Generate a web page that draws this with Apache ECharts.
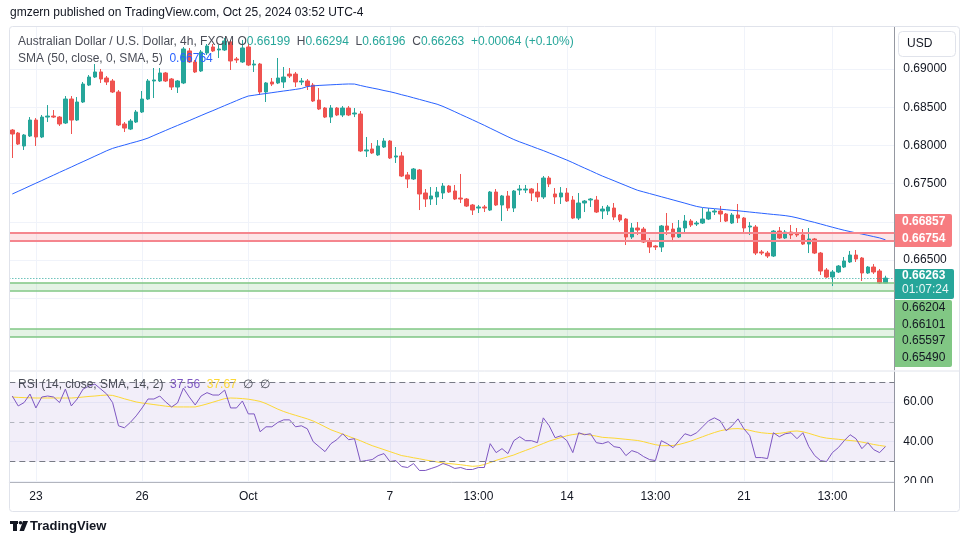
<!DOCTYPE html>
<html><head><meta charset="utf-8">
<script src="https://cdn.jsdelivr.net/npm/echarts@6/dist/echarts.min.js"></script>
<style>html,body{margin:0;padding:0;background:#fff}#c{width:970px;height:545px}</style>
</head><body><div id="c"></div>
<script>
// ---- data (AUD/USD 4h, FXCM) ----
const opens = [0.68201,0.68162,0.67992,0.68123,0.68332,0.68110,0.68371,0.68384,0.68371,0.68293,
0.68607,0.68332,0.68568,0.68790,0.68895,0.68961,0.68882,0.68843,0.68699,0.68280,
0.68214,0.68306,0.68437,0.68607,0.68843,0.68843,0.68948,0.68869,0.68764,0.68817,
0.69236,0.69092,0.68974,0.69210,0.69288,0.69249,0.69249,0.69354,0.69131,0.69092,
0.69288,0.69052,0.69065,0.68699,0.68830,0.68817,0.68830,0.68934,0.68934,0.68830,
0.68843,0.68790,0.68594,0.68489,0.68371,0.68489,0.68398,0.68489,0.68411,0.68411,
0.67927,0.67953,0.67875,0.67979,0.68057,0.67848,0.67862,0.67613,0.67560,0.67678,
0.67377,0.67298,0.67325,0.67377,0.67468,0.67403,0.67311,0.67298,0.67220,0.67180,
0.67194,0.67154,0.67390,0.67220,0.67338,0.67180,0.67416,0.67416,0.67429,0.67390,
0.67325,0.67573,0.67364,0.67325,0.67377,0.67285,0.67049,0.67246,0.67285,0.67285,
0.67141,0.67141,0.67180,0.67089,0.67036,0.66801,0.66919,0.66905,0.66749,0.66683,
0.66670,0.66945,0.66905,0.66801,0.66919,0.67010,0.66971,0.66984,0.67036,0.67128,
0.67141,0.67102,0.66984,0.67089,0.67049,0.66932,0.66932,0.66605,0.66591,0.66552,
0.66879,0.66788,0.66866,0.66840,0.66827,0.66709,0.66775,0.66591,0.66369,0.66277,
0.66343,0.66408,0.66474,0.66565,0.66526,0.66330,0.66408,0.66356,0.66199];
const closes = [0.68149,0.68018,0.68136,0.68332,0.68110,0.68371,0.68384,0.68371,0.68280,0.68607,
0.68332,0.68568,0.68803,0.68895,0.68961,0.68869,0.68830,0.68699,0.68267,0.68227,
0.68319,0.68437,0.68607,0.68843,0.68856,0.68948,0.68843,0.68764,0.68843,0.69262,
0.69092,0.68961,0.69223,0.69301,0.69236,0.69262,0.69367,0.69105,0.69118,0.69275,
0.69052,0.69065,0.68699,0.68817,0.68803,0.68882,0.68895,0.68908,0.68830,0.68843,
0.68777,0.68581,0.68476,0.68371,0.68489,0.68398,0.68489,0.68398,0.68424,0.67927,
0.67940,0.67901,0.67992,0.68057,0.67835,0.67862,0.67599,0.67560,0.67691,0.67364,
0.67298,0.67338,0.67390,0.67468,0.67390,0.67298,0.67298,0.67206,0.67154,0.67194,
0.67180,0.67390,0.67220,0.67338,0.67180,0.67403,0.67429,0.67429,0.67377,0.67325,
0.67573,0.67495,0.67325,0.67377,0.67272,0.67049,0.67246,0.67272,0.67298,0.67128,
0.67167,0.67194,0.67062,0.67023,0.66801,0.66919,0.66892,0.66735,0.66670,0.66670,
0.66945,0.66892,0.66801,0.66919,0.67010,0.66958,0.66984,0.67036,0.67128,0.67141,
0.67102,0.67010,0.67089,0.67049,0.66919,0.66945,0.66591,0.66591,0.66552,0.66879,
0.66788,0.66866,0.66827,0.66827,0.66709,0.66775,0.66591,0.66356,0.66277,0.66343,
0.66421,0.66487,0.66565,0.66513,0.66330,0.66408,0.66343,0.66199,0.66263];
const highs = [0.68214,0.68175,0.68149,0.68371,0.68358,0.68398,0.68528,0.68463,0.68384,0.68646,
0.68646,0.68633,0.68830,0.68921,0.69065,0.69000,0.68908,0.68869,0.68725,0.68306,
0.68345,0.68463,0.68712,0.68869,0.69013,0.69013,0.68961,0.68882,0.68856,0.69288,
0.69275,0.69118,0.69249,0.69327,0.69327,0.69314,0.69406,0.69380,0.69157,0.69380,
0.69341,0.69118,0.69079,0.68830,0.68882,0.69144,0.69026,0.69013,0.68961,0.68882,
0.68869,0.68817,0.68751,0.68502,0.68528,0.68502,0.68515,0.68515,0.68489,0.68450,
0.68110,0.68031,0.68070,0.68096,0.68070,0.67979,0.67914,0.67652,0.67704,0.67691,
0.67429,0.67455,0.67455,0.67508,0.67482,0.67482,0.67626,0.67311,0.67233,0.67220,
0.67220,0.67403,0.67429,0.67351,0.67403,0.67416,0.67482,0.67482,0.67442,0.67508,
0.67599,0.67599,0.67442,0.67455,0.67442,0.67338,0.67377,0.67285,0.67311,0.67338,
0.67207,0.67220,0.67246,0.67102,0.67049,0.66984,0.66997,0.66932,0.66788,0.66696,
0.66958,0.67115,0.66984,0.67023,0.67089,0.67036,0.67010,0.67180,0.67180,0.67167,
0.67207,0.67115,0.67115,0.67233,0.67062,0.66997,0.66958,0.66631,0.66618,0.66892,
0.66932,0.66892,0.66958,0.66919,0.66905,0.66919,0.66788,0.66605,0.66395,0.66369,
0.66434,0.66539,0.66618,0.66631,0.66539,0.66421,0.66447,0.66382,0.66294];
const lows = [0.67835,0.68005,0.67940,0.68110,0.67992,0.68096,0.68306,0.68358,0.68254,0.68280,
0.68149,0.68319,0.68555,0.68777,0.68882,0.68817,0.68790,0.68686,0.68254,0.68175,
0.68201,0.68293,0.68424,0.68594,0.68620,0.68830,0.68830,0.68725,0.68686,0.68803,
0.69079,0.68948,0.68961,0.69184,0.69223,0.69144,0.69236,0.68987,0.69079,0.69079,
0.69039,0.68961,0.68660,0.68568,0.68777,0.68803,0.68751,0.68882,0.68764,0.68790,
0.68725,0.68568,0.68463,0.68358,0.68293,0.68384,0.68371,0.68384,0.68371,0.67914,
0.67848,0.67888,0.67862,0.67966,0.67822,0.67770,0.67586,0.67442,0.67547,0.67154,
0.67194,0.67220,0.67220,0.67298,0.67377,0.67285,0.67246,0.67194,0.67089,0.67115,
0.67128,0.67141,0.67207,0.67010,0.67141,0.67128,0.67351,0.67377,0.67272,0.67259,
0.67298,0.67455,0.67233,0.67233,0.67259,0.67036,0.67023,0.67128,0.67194,0.67115,
0.67036,0.67089,0.67023,0.66997,0.66696,0.66775,0.66827,0.66722,0.66591,0.66631,
0.66605,0.66827,0.66735,0.66788,0.66840,0.66932,0.66945,0.66971,0.67023,0.67089,
0.66997,0.66997,0.66971,0.66984,0.66840,0.66827,0.66565,0.66565,0.66526,0.66539,
0.66775,0.66775,0.66775,0.66801,0.66696,0.66591,0.66578,0.66304,0.66264,0.66159,
0.66330,0.66395,0.66461,0.66474,0.66225,0.66317,0.66317,0.66186,0.66196];
const sma50 = [0.67364,0.67399,0.67434,0.67470,0.67505,0.67540,0.67576,0.67611,0.67647,0.67682,
0.67717,0.67753,0.67788,0.67823,0.67859,0.67894,0.67930,0.67961,0.67984,0.68005,
0.68027,0.68048,0.68070,0.68096,0.68130,0.68163,0.68196,0.68229,0.68261,0.68293,
0.68325,0.68358,0.68391,0.68424,0.68455,0.68488,0.68521,0.68553,0.68586,0.68618,
0.68646,0.68657,0.68669,0.68679,0.68690,0.68701,0.68712,0.68722,0.68733,0.68745,
0.68770,0.68779,0.68785,0.68789,0.68793,0.68797,0.68801,0.68804,0.68803,0.68784,
0.68767,0.68751,0.68736,0.68718,0.68703,0.68684,0.68663,0.68644,0.68623,0.68602,
0.68581,0.68560,0.68539,0.68510,0.68476,0.68441,0.68405,0.68370,0.68335,0.68299,
0.68263,0.68225,0.68188,0.68150,0.68113,0.68077,0.68046,0.68018,0.67989,0.67960,
0.67932,0.67901,0.67871,0.67839,0.67808,0.67774,0.67738,0.67703,0.67669,0.67633,
0.67599,0.67568,0.67537,0.67505,0.67474,0.67442,0.67412,0.67391,0.67370,0.67349,
0.67328,0.67307,0.67286,0.67265,0.67244,0.67222,0.67201,0.67187,0.67179,0.67172,
0.67165,0.67158,0.67150,0.67144,0.67136,0.67128,0.67120,0.67112,0.67104,0.67096,
0.67089,0.67081,0.67069,0.67052,0.67032,0.67011,0.66992,0.66971,0.66950,0.66929,
0.66909,0.66889,0.66872,0.66855,0.66840,0.66823,0.66806,0.66789,0.66764];
const rsi = [63,58,59.7,64,57,62.5,63,62.5,59.7,66.5,
58,61.5,66.5,68,69,66.5,64,59.7,48,47,
49.7,53,57,61.5,61.5,63,60,57.5,59.5,67,
62.5,58.5,63,64.7,63.5,63.5,66,57,57,60.5,
54,54,45,47.5,47.5,49.7,51,51,47.5,48,
46.5,40,37.5,35,39,41,44,41,41.5,30,
30.5,31,33,34,30,30.5,27.5,27,29,25.5,
25.5,26.5,27.5,29,28,26.5,27,26,26,27,
27,39,34.5,36.5,34,40.5,42.5,40.5,40.5,39.5,
52,48,42,43,40.5,34.5,44.5,43.5,44,39.5,
39,40,37.5,37,33,35.5,34.5,32.5,31,30.5,
40.5,39,37,40.5,44,43,44.5,47.5,50.5,52,
50.5,45.5,48,51.5,46.5,43,32,32,31.5,44.5,
42.5,44,44.5,41.5,44.5,37.5,33,30.5,30,34.5,
37,40.5,43.5,41.5,36.5,39.5,36,34.5,37.56];
const rsiMa = [62.5,62.3,62.2,62.1,62,62,62,62,62,62,
62,62.2,62.5,62.8,63,63.3,63.5,63.3,62.5,61.6,
60.8,60,59.5,59.1,58.7,58.3,57.9,57.6,57.5,57.5,
57.5,57.5,58.2,59,59.9,60.8,61.7,62,61.9,61.7,
61.4,60.9,60.3,59.2,57.8,56.4,55.2,54.2,53.3,52.4,
51.5,50.4,49,47.5,46,44.9,43.8,42.7,41.6,40.5,
39.2,38,37,36,35,34,33,32.5,31.9,31.4,
30.8,30.3,29.8,29.3,29,28.7,28.4,28,27.6,27.8,
28.5,29.5,30.6,31.5,32.4,33.3,34.5,35.6,36.7,37.9,
39.1,40.3,41.2,42.1,43,43.6,44,43.8,43.3,42.8,
42.2,42,41.8,41.5,41.2,40.9,40.6,40,39.2,38.5,
38,38,38.1,38.6,39.4,40.3,41.4,42.5,43.6,44.6,
45.5,46.1,46.5,46.6,46.3,45.7,45,44.5,44.2,44,
44.2,44.6,45.2,45.4,45,44.2,43.3,42.4,41.8,41.5,
41.2,40.9,40.6,40.3,39.8,39.2,38.6,38.1,37.67];
// bar slots (one spare slot on the right)
const categories = closes.map((_, i) => String(i)).concat(['']);
// time-axis ticks (bar index -> label)
const tickIdx = [4, 22, 40, 64, 79, 94, 109, 124, 139];
const tickLabels = ['23', '26', 'Oct', '7', '13:00', '14', '13:00', '21', '13:00'];
// price scale
const priceGrid = [0.655, 0.660, 0.665, 0.670, 0.675, 0.680, 0.685, 0.690];
const priceLabels = [0.665, 0.675, 0.680, 0.685, 0.690];
// zones
const resistanceZone = [0.66857, 0.66754];
const supportZone1 = [0.66204, 0.66101];
const supportZone2 = [0.65597, 0.65490];
const lastPrice = 0.66263;
// RSI levels
const rsiTicks = [20, 40, 60];
const rsiLevels = [70, 50, 30];

const FONT = "'Liberation Sans', Arial, sans-serif";
const UP = '#26a69a', DOWN = '#ef5350';
const candleData = opens.map((o, i) => [o, closes[i], lows[i], highs[i]]);

const chart = echarts.init(document.getElementById('c'), null, {renderer: 'canvas'});
const gridL = 9.35, gridW = 885;

const hLine = (v, color, width, type) => ({yAxis: v, lineStyle: {color, width, type}});

chart.setOption({
  animation: false,
  backgroundColor: '#ffffff',
  textStyle: {fontFamily: FONT},
  grid: [
    {left: gridL, top: 27, width: gridW, height: 343},
    {left: gridL, top: 372, width: gridW, height: 110}
  ],
  xAxis: [
    {type: 'category', gridIndex: 0, data: categories, show: false, boundaryGap: true},
    {type: 'category', gridIndex: 1, data: categories, show: false, boundaryGap: true},
    {type: 'value', gridIndex: 0, min: -0.5, max: categories.length - 0.5, position: 'bottom',
      axisLine: {show: false, onZero: false}, axisLabel: {show: false},
      axisTick: {show: false, customValues: tickIdx},
      splitLine: {show: true, lineStyle: {color: '#f0f3fa', width: 1}}},
    {type: 'value', gridIndex: 1, min: -0.5, max: categories.length - 0.5, position: 'bottom',
      axisLine: {show: true, onZero: false, lineStyle: {color: '#b2b5be', width: 1}},
      axisTick: {show: false, customValues: tickIdx},
      axisLabel: {customValues: tickIdx, color: '#131722', fontSize: 12, fontFamily: FONT, margin: 9,
        formatter: v => { const k = tickIdx.indexOf(Math.round(v)); return k >= 0 ? tickLabels[k] : ''; }},
      splitLine: {show: true, lineStyle: {color: '#f0f3fa', width: 1}}}
  ],
  yAxis: [
    {type: 'value', gridIndex: 0, position: 'right', min: 0.650602, max: 0.695497,
      axisLine: {show: true, onZero: false, lineStyle: {color: '#9598a1', width: 1}},
      axisTick: {show: false, customValues: priceGrid},
      splitLine: {show: true, lineStyle: {color: '#f0f3fa', width: 1}},
      axisLabel: {customValues: priceLabels, formatter: v => v.toFixed(5), color: '#131722',
        fontSize: 12, fontFamily: FONT, margin: 9}},
    {type: 'value', gridIndex: 1, position: 'right', min: 19.7, max: 75.1,
      axisLine: {show: true, onZero: false, lineStyle: {color: '#9598a1', width: 1}},
      axisTick: {show: false, customValues: rsiTicks},
      splitLine: {show: true, lineStyle: {color: '#f0f3fa', width: 1}},
      axisLabel: {customValues: rsiTicks, formatter: v => v.toFixed(2), color: '#131722',
        fontSize: 12, fontFamily: FONT, margin: 9}}
  ],
  series: [
    {
      type: 'candlestick', name: 'AUDUSD', xAxisIndex: 0, yAxisIndex: 0, z: 2,
      data: candleData, barWidth: 4,
      itemStyle: {color: UP, color0: DOWN, borderColor: UP, borderColor0: DOWN, borderWidth: 1}
    },
    {
      type: 'line', name: 'zones', xAxisIndex: 0, yAxisIndex: 0, z: 3, data: [],
      markArea: {silent: true, label: {show: false}, data: [
        [{yAxis: resistanceZone[0], itemStyle: {color: 'rgba(242,54,69,0.13)'}}, {yAxis: resistanceZone[1]}],
        [{yAxis: supportZone1[0], itemStyle: {color: 'rgba(76,175,80,0.15)'}}, {yAxis: supportZone1[1]}],
        [{yAxis: supportZone2[0], itemStyle: {color: 'rgba(76,175,80,0.15)'}}, {yAxis: supportZone2[1]}]
      ]},
      markLine: {silent: true, precision: 5, symbol: ['none', 'none'], label: {show: false}, data: [
        hLine(resistanceZone[0], '#f5868e', 2, 'solid'),
        hLine(resistanceZone[1], '#f5868e', 2, 'solid'),
        hLine(supportZone1[0], '#81c784', 1.5, 'solid'),
        hLine(supportZone1[1], '#81c784', 1.5, 'solid'),
        hLine(supportZone2[0], '#81c784', 1.5, 'solid'),
        hLine(supportZone2[1], '#81c784', 1.5, 'solid'),
        hLine(lastPrice, UP, 1, [1, 2])
      ]}
    },
    {
      type: 'line', name: 'SMA 50', xAxisIndex: 0, yAxisIndex: 0, z: 4, data: sma50,
      symbol: 'none', showSymbol: false, lineStyle: {color: '#2962ff', width: 1}
    },
    {
      type: 'line', name: 'RSI', xAxisIndex: 1, yAxisIndex: 1, z: 3, data: rsi,
      symbol: 'none', showSymbol: false, lineStyle: {color: '#7e57c2', width: 1},
      markArea: {silent: true, label: {show: false}, data: [
        [{yAxis: rsiLevels[0], itemStyle: {color: 'rgba(126,87,194,0.1)'}}, {yAxis: rsiLevels[2]}]
      ]},
      markLine: {silent: true, precision: 2, symbol: ['none', 'none'], label: {show: false}, data: [
        hLine(rsiLevels[0], '#787b86', 1, [6, 4]),
        hLine(rsiLevels[1], '#b2b5be', 1, [5, 5]),
        hLine(rsiLevels[2], '#787b86', 1, [6, 4])
      ]}
    },
    {
      type: 'line', name: 'RSI MA', xAxisIndex: 1, yAxisIndex: 1, z: 2, data: rsiMa,
      symbol: 'none', showSymbol: false, lineStyle: {color: '#fdd835', width: 1}
    }
  ],
  graphic: [
    // frame
    {type: 'rect', z: 50, silent: true, shape: {x: 9.5, y: 26.5, width: 950, height: 485, r: 3},
      style: {fill: 'none', stroke: '#e0e3eb', lineWidth: 1}},
    {type: 'line', z: 50, silent: true, shape: {x1: 10, y1: 371, x2: 959, y2: 371},
      style: {stroke: '#e0e3eb', lineWidth: 1}},
    // header
    {type: 'text', z: 60, left: 10, top: 7, style: {text: 'gmzern published on TradingView.com, Oct 25, 2024 03:52 UTC-4',
      font: '12px ' + FONT, fill: '#131722'}},
    // legend
    {type: 'text', z: 60, left: 18, top: 36, style: {
      text: '{g|Australian Dollar / U.S. Dollar, 4h, FXCM} {g|O}{v|0.66199}  {g|H}{v|0.66294}  {g|L}{v|0.66196}  {g|C}{v|0.66263}  {v|+0.00064 (+0.10%)}',
      font: '12px ' + FONT,
      rich: {g: {fill: '#4a4d57', font: '12px ' + FONT}, v: {fill: '#26a69a', font: '12px ' + FONT}}}},
    {type: 'text', z: 60, left: 18, top: 53, style: {
      text: '{g|SMA (50, close, 0, SMA, 5)}  {b|0.66764}',
      font: '12px ' + FONT,
      rich: {g: {fill: '#4a4d57', font: '12px ' + FONT}, b: {fill: '#2962ff', font: '12px ' + FONT}}}},
    {type: 'text', z: 60, left: 18, top: 379, style: {
      text: '{g|RSI (14, close, SMA, 14, 2)}  {p|37.56}  {y|37.67}  {g|∅  ∅}',
      font: '12px ' + FONT,
      rich: {g: {fill: '#4a4d57', font: '12px ' + FONT}, p: {fill: '#7e57c2', font: '12px ' + FONT},
             y: {fill: '#fdd835', font: '12px ' + FONT}}}},
    // USD box
    {type: 'rect', z: 60, shape: {x: 898.5, y: 31.5, width: 57, height: 25, r: 4},
      style: {fill: '#ffffff', stroke: '#e0e3eb', lineWidth: 1}},
    {type: 'text', z: 61, left: 907, top: 38, style: {text: 'USD', font: '12px ' + FONT, fill: '#131722'}},
    // resistance labels
    {type: 'rect', z: 60, shape: {x: 895, y: 214, width: 57, height: 33, r: [0, 2, 2, 0]}, style: {fill: '#f77c80'}},
    {type: 'text', z: 61, left: 902, top: 216, style: {text: '0.66857', font: 'bold 12px ' + FONT, fill: '#ffffff'}},
    {type: 'text', z: 61, left: 902, top: 233, style: {text: '0.66754', font: 'bold 12px ' + FONT, fill: '#ffffff'}},
    // last price
    {type: 'rect', z: 60, shape: {x: 895, y: 269, width: 59, height: 30, r: [0, 2, 2, 0]}, style: {fill: '#26a69a'}},
    {type: 'text', z: 61, left: 902, top: 270, style: {text: '0.66263', font: 'bold 12px ' + FONT, fill: '#ffffff'}},
    {type: 'text', z: 61, left: 902, top: 284, style: {text: '01:07:24', font: '12px ' + FONT, fill: '#e8f6f4'}},
    // support labels
    {type: 'rect', z: 60, shape: {x: 895, y: 300, width: 57, height: 67, r: [0, 2, 2, 0]}, style: {fill: '#81c784'}},
    {type: 'text', z: 61, left: 902, top: 302, style: {text: '0.66204', font: '12px ' + FONT, fill: '#131722'}},
    {type: 'text', z: 61, left: 902, top: 319, style: {text: '0.66101', font: '12px ' + FONT, fill: '#131722'}},
    {type: 'text', z: 61, left: 902, top: 335, style: {text: '0.65597', font: '12px ' + FONT, fill: '#131722'}},
    {type: 'text', z: 61, left: 902, top: 352, style: {text: '0.65490', font: '12px ' + FONT, fill: '#131722'}},
    // clip RSI scale bottom
    {type: 'rect', z: 55, shape: {x: 896, y: 483, width: 62, height: 27}, style: {fill: '#ffffff'}},
    {type: 'line', z: 56, shape: {x1: 894.5, y1: 482, x2: 894.5, y2: 511}, style: {stroke: '#9598a1', lineWidth: 1}},
    // TradingView logo
    {type: 'rect', z: 60, shape: {x: 10, y: 521, width: 8, height: 3}, style: {fill: '#131722'}},
    {type: 'rect', z: 60, shape: {x: 13, y: 521, width: 4, height: 10}, style: {fill: '#131722'}},
    {type: 'circle', z: 60, shape: {cx: 20.5, cy: 522.8, r: 1.8}, style: {fill: '#131722'}},
    {type: 'polygon', z: 60, shape: {points: [[23, 521], [28, 521], [24, 531], [19.5, 531]]}, style: {fill: '#131722'}},
    {type: 'text', z: 60, left: 30, top: 520, style: {text: 'TradingView', font: '600 13px ' + FONT, fill: '#131722'}}
  ]
});
</script></body></html>
